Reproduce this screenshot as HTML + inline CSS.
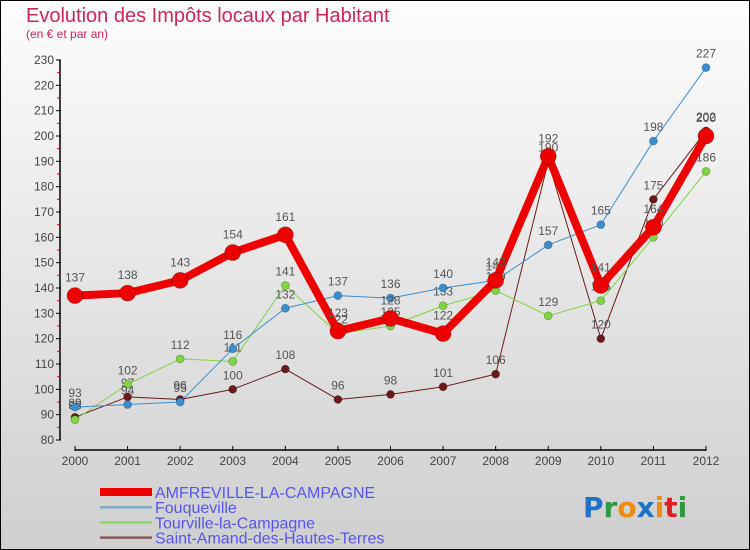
<!DOCTYPE html>
<html><head><meta charset="utf-8"><style>
body{margin:0;}
svg{display:block;font-family:"Liberation Sans",sans-serif;}
</style></head><body>
<svg id="c" width="750" height="550" viewBox="0 0 750 550">
<defs><linearGradient id="bg" x1="0" y1="0" x2="0" y2="1"><stop offset="0" stop-color="#fdfdfd"/><stop offset="1" stop-color="#cfcfcf"/></linearGradient></defs>
<rect x="0.5" y="0.5" width="749" height="549" fill="url(#bg)" stroke="#000"/>
<text x="26" y="22" font-size="20" fill="#c8285a">Evolution des Impôts locaux par Habitant</text>
<text x="26" y="38" font-size="12" fill="#c8285a">(en € et par an)</text>
<g id="axes"></g>
<g id="series"></g>
<g id="legend"></g>
<g font-size="28" font-weight="bold" font-family="'DejaVu Sans',sans-serif">
<text x="583" y="517"><tspan fill="#1e73c8">P</tspan><tspan fill="#2a9a3a">r</tspan><tspan fill="#f08a10">o</tspan><tspan fill="#1e73c8">x</tspan><tspan fill="#f08a10">i</tspan><tspan fill="#e02020">t</tspan><tspan fill="#2a9a3a">i</tspan></text>
</g>
</svg>
<script>
const years=["2000","2001","2002","2003","2004","2005","2006","2007","2008","2009","2010","2011","2012"];
const amfreville=[137,138,143,154,161,123,128,122,143,192,141,164,200];
const fouqueville=[93,94,95,116,132,137,136,140,143,157,165,198,227];
const tourville=[88,102,112,111,141,122,125,133,139,129,135,160,186];
const saintAmand=[89,97,96,100,108,96,98,101,106,190,120,175,202];
const yTicks=[80,90,100,110,120,130,140,150,160,170,180,190,200,210,220,230];
const NS="http://www.w3.org/2000/svg";
const xS=i=>75+i*(706-75)/12;
const yS=v=>440-(v-80)*(380/150);
function mk(tag,at,parent){const e=document.createElementNS(NS,tag);for(const k in at)e.setAttribute(k,at[k]);parent.appendChild(e);return e;}
const ax=document.getElementById('axes');
let l=mk('line',{x1:60,y1:60,x2:60,y2:440,stroke:'#000','stroke-width':1.5},ax);


yTicks.forEach(v=>{
 mk('line',{x1:56,y1:yS(v),x2:61,y2:yS(v),stroke:'#000'},ax);
 if(v<230) mk('line',{x1:57,y1:yS(v+5),x2:60,y2:yS(v+5),stroke:'#e00'},ax);
 const t=mk('text',{x:54,y:yS(v)+4,'font-size':12,'text-anchor':'end',fill:'#444'},ax);t.textContent=v;
 
 
});
l=mk('line',{x1:75,y1:450,x2:706,y2:450,stroke:'#000','stroke-width':1.5},ax);


years.forEach((y,i)=>{
 mk('line',{x1:xS(i),y1:446,x2:xS(i),y2:451,stroke:'#000'},ax);
 const t=mk('text',{x:xS(i),y:465,'font-size':12,'text-anchor':'middle',fill:'#444'},ax);t.textContent=y;
 
 
});
const sg=document.getElementById('series');
const defs=[
 {d:saintAmand,c:'#6b1a1a',w:1,r:4,n:'saint-amand'},
 {d:tourville,c:'#7ed640',w:1,r:4,n:'tourville'},
 {d:fouqueville,c:'#3a8fd0',w:1,r:4,n:'fouqueville'},
 {d:amfreville,c:'#ee0000',w:8,r:8,n:'amfreville'}
];
defs.forEach(s=>{
 const g=mk('g',{},sg);
 
 
 const p=mk('polyline',{points:s.d.map((v,i)=>xS(i)+','+yS(v)).join(' '),fill:'none',stroke:s.c,'stroke-width':s.w,'stroke-linejoin':'round'},g);
 
 
 s.d.forEach((v,i)=>{
  const c=mk('circle',{cx:xS(i),cy:yS(v),r:s.r,fill:s.c,stroke:'rgba(0,0,0,0.3)','stroke-width':0.7},g);
  
  
  const t=mk('text',{x:xS(i),y:yS(v)-(s.r+6),'font-size':12,'text-anchor':'middle',fill:'#555'},g);t.textContent=v;
  
  
 });
});
const lg=document.getElementById('legend');
const items=[["AMFREVILLE-LA-CAMPAGNE",'#ee0000',8],["Fouqueville",'#7aaed0',2.5],["Tourville-la-Campagne",'#90d870',2.5],["Saint-Amand-des-Hautes-Terres",'#8a5a5a',2.5]];
items.forEach((it,k)=>{
 const y=492+k*15.2;
 const li=mk('line',{x1:100,y1:y,x2:152,y2:y,stroke:it[1],'stroke-width':it[2]},lg);
 
 
 const t=mk('text',{x:155,y:y+6,'font-size':16,fill:'#5555ee'},lg);t.textContent=it[0];
 
 
});
</script>
</body></html>
